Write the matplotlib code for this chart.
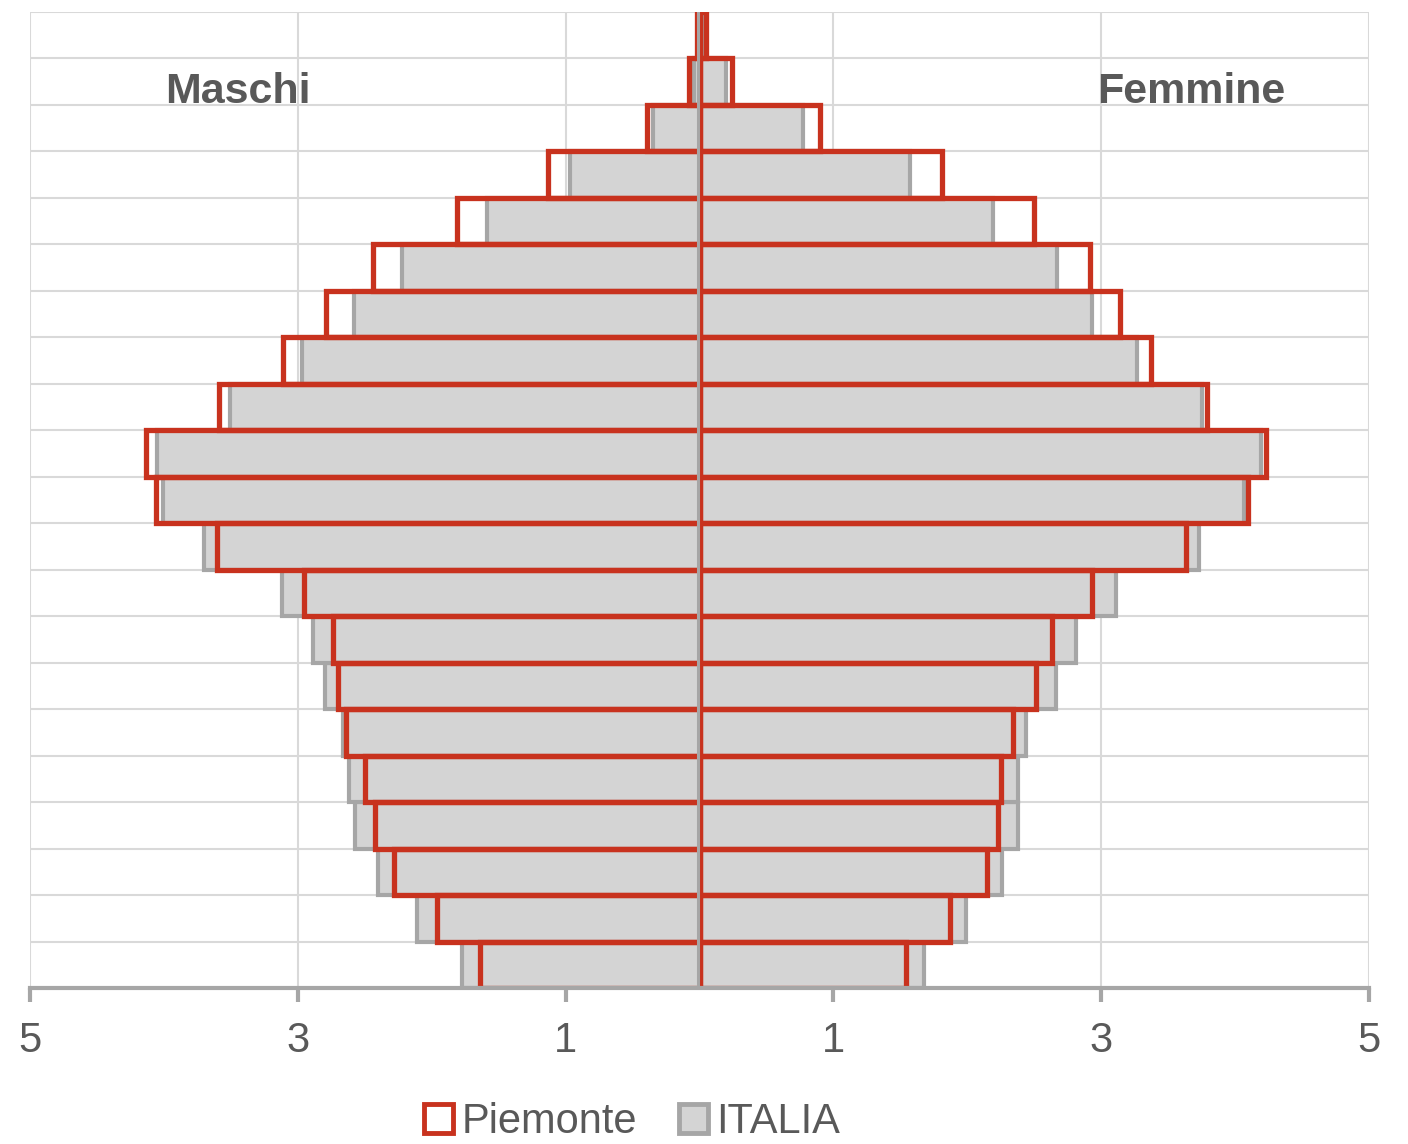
import matplotlib.pyplot as plt
from matplotlib.patches import Patch
from matplotlib import font_manager
import numpy as np

# age classes, bottom to top
eta = ["0-4", "5-9", "10-14", "15-19", "20-24", "25-29", "30-34", "35-39",
       "40-44", "45-49", "50-54", "55-59", "60-64", "65-69", "70-74",
       "75-79", "80-84", "85-89", "90-94", "95-99", "100+"]

# percent of total population per class
piemonte_m = [1.64, 1.96, 2.28, 2.42, 2.50, 2.64, 2.70, 2.74, 2.95, 3.60, 4.06,
              4.13, 3.59, 3.11, 2.79, 2.44, 1.81, 1.13, 0.39, 0.075, 0.02]
piemonte_f = [1.54, 1.87, 2.15, 2.23, 2.25, 2.34, 2.51, 2.63, 2.93, 3.63, 4.10,
              4.23, 3.79, 3.37, 3.14, 2.92, 2.50, 1.81, 0.90, 0.24, 0.045]
italia_m = [1.77, 2.11, 2.40, 2.57, 2.62, 2.66, 2.80, 2.89, 3.12, 3.70, 4.01,
            4.05, 3.51, 2.97, 2.58, 2.22, 1.59, 0.97, 0.35, 0.04, 0.01]
italia_f = [1.68, 1.99, 2.26, 2.38, 2.38, 2.44, 2.66, 2.81, 3.11, 3.73, 4.07,
            4.19, 3.75, 3.27, 2.93, 2.67, 2.19, 1.57, 0.77, 0.20, 0.02]

tick_pos = [-5, -3, -1, 1, 3, 5]
tick_lab = ["5", "3", "1", "1", "3", "5"]

installed = {f.name for f in font_manager.fontManager.ttflist}
fam = "Liberation Sans Narrow" if "Liberation Sans Narrow" in installed else "Liberation Sans"
plt.rcParams["font.family"] = [fam, "DejaVu Sans"]

RED = "#c8321e"
GREY_FILL = "#d4d4d4"
GREY_EDGE = "#a6a6a6"
GRID = "#d9d9d9"
TXT = "#595959"

fig = plt.figure(figsize=(14.08, 11.44), dpi=100)
ax = fig.add_axes([30 / 1408, 156 / 1144, 1339 / 1408, 976 / 1144])

y = np.arange(len(eta))

# Italy as filled grey bars
ax.barh(y, -np.array(italia_m), height=1.0, color=GREY_FILL,
        edgecolor=GREY_EDGE, linewidth=3, zorder=2)
ax.barh(y, italia_f, height=1.0, color=GREY_FILL,
        edgecolor=GREY_EDGE, linewidth=3, zorder=2)

# Piemonte as red outlines on top
ax.barh(y, -np.array(piemonte_m), height=1.0, fill=False,
        edgecolor=RED, linewidth=3.8, zorder=3)
ax.barh(y, piemonte_f, height=1.0, fill=False,
        edgecolor=RED, linewidth=3.8, zorder=3)

# grey centre line over the shared bar edges
ax.axvline(-0.012, color=GREY_EDGE, linewidth=2.2, zorder=4)

ax.set_xlim(-5, 5)
ax.set_ylim(-0.5, len(eta) - 0.5)

ax.set_xticks(tick_pos)
ax.set_xticklabels(tick_lab)
ax.set_yticks([])
ax.set_yticks(np.arange(len(eta) + 1) - 0.5, minor=True)
ax.tick_params(axis="y", which="both", length=0)
ax.tick_params(axis="x", length=10, width=3, color=GREY_EDGE, pad=14,
               labelsize=30, labelcolor=TXT)

ax.grid(axis="x", color=GRID, linewidth=1.5, zorder=0)
ax.grid(axis="y", which="minor", color=GRID, linewidth=1.5, zorder=0)
ax.set_axisbelow(True)

for s in ["left", "right", "top"]:
    ax.spines[s].set_visible(False)
ax.spines["bottom"].set_color(GREY_EDGE)
ax.spines["bottom"].set_linewidth(3)
ax.spines["bottom"].set_zorder(5)

ax.text(0.155, 0.918, "Maschi", transform=ax.transAxes, ha="center", va="center",
        fontsize=31, fontweight="bold", color=TXT)
ax.text(0.867, 0.918, "Femmine", transform=ax.transAxes, ha="center", va="center",
        fontsize=31, fontweight="bold", color=TXT)

handles = [Patch(facecolor="white", edgecolor=RED, linewidth=3.5, label="Piemonte"),
           Patch(facecolor=GREY_FILL, edgecolor=GREY_EDGE, linewidth=3.5, label="ITALIA")]
leg = fig.legend(handles=handles, loc="center", bbox_to_anchor=(0.449, 0.019),
                 ncol=2, frameon=False, fontsize=30, handlelength=0.7,
                 handleheight=0.7, handletextpad=0.2, columnspacing=1.0)
for t in leg.get_texts():
    t.set_color(TXT)

fig.savefig("out.png", dpi=100)
